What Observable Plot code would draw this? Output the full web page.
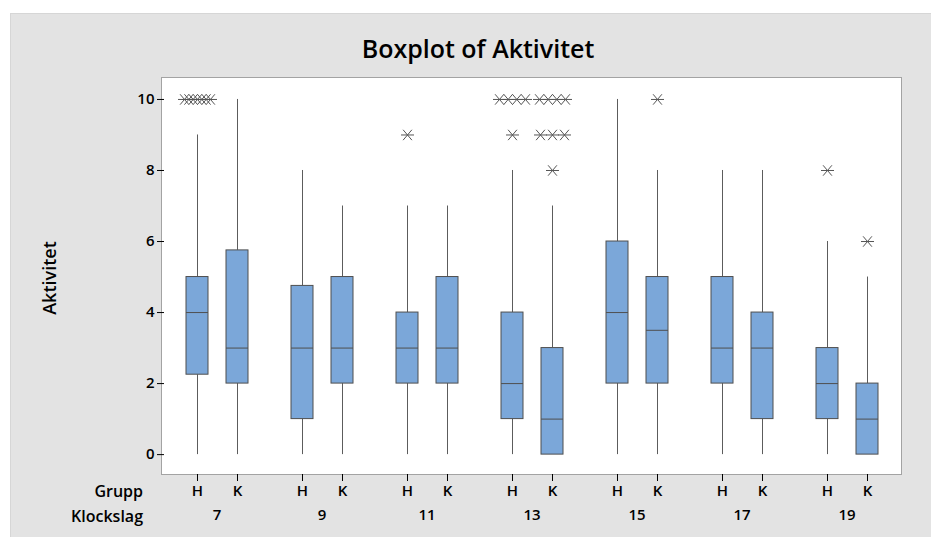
<!DOCTYPE html>
<html>
<head>
<meta charset="utf-8">
<script src="https://cdn.jsdelivr.net/npm/d3@7"></script>
<script src="https://cdn.jsdelivr.net/npm/@observablehq/plot@0.6"></script>
<style>
  html, body { margin: 0; padding: 0; background: #fff; }
  #wrap { position: relative; width: 931px; height: 537px; overflow: hidden; font-family: "Open Sans", sans-serif; }
  #panel { position: absolute; left: 10px; top: 13px; right: 0; bottom: 0; background: #e3e3e3; border-top: 1px solid #d6d6d6; border-left: 1px solid #d6d6d6; }
  #plotbg { position: absolute; left: 161px; top: 77px; width: 739px; height: 396px; background: #fff; border: 1.5px solid #a3a3a3; }
  #chart { position: absolute; left: 0; top: 0; }
  .lbl { position: absolute; color: #000; font-weight: 600; white-space: nowrap; }
  #title { left: 478px; top: 31px; transform: translateX(-50%); font-size: 25px; }
  #ylabel { left: 49px; top: 278px; transform: translate(-50%, -50%) rotate(-90deg); font-size: 18px; }
  .rowlbl { right: 788px; font-size: 16px; transform: translateY(-50%); }
  svg [aria-label="y-axis tick"], svg [aria-label="x-axis tick"] { stroke: #9a9a9a; }
</style>
</head>
<body>
<div id="wrap">
  <div id="panel"></div>
  <div id="plotbg"></div>
  <div id="chart"></div>
  <div class="lbl" id="title">Boxplot of Aktivitet</div>
  <div class="lbl" id="ylabel">Aktivitet</div>
  <div class="lbl rowlbl" style="top:491px">Grupp</div>
  <div class="lbl rowlbl" style="top:516px">Klockslag</div>
</div>
<script>
// ---- data ----
const hours = [7, 9, 11, 13, 15, 17, 19];
const groups = ["H", "K"];
const yTicks = [0, 2, 4, 6, 8, 10];

const boxHour     = [7, 7, 9, 9, 11, 11, 13, 13, 15, 15, 17, 17, 19, 19];
const boxGroup    = ["H", "K", "H", "K", "H", "K", "H", "K", "H", "K", "H", "K", "H", "K"];
const whiskerLow  = [0, 0, 0, 0, 0, 0, 0, 0, 0, 0, 0, 0, 0, 0];
const q1          = [2.25, 2, 1, 2, 2, 2, 1, 0, 2, 2, 2, 1, 1, 0];
const median      = [4, 3, 3, 3, 3, 3, 2, 1, 4, 3.5, 3, 3, 2, 1];
const q3          = [5, 5.75, 4.75, 5, 4, 5, 4, 3, 6, 5, 5, 4, 3, 2];
const whiskerHigh = [9, 10, 8, 7, 7, 7, 8, 7, 10, 8, 8, 8, 6, 5];

const outHour  = [7, 11, 13, 13, 13, 13, 13, 15, 19, 19];
const outGroup = ["H", "H", "H", "H", "K", "K", "K", "K", "H", "K"];
const outValue = [10, 9, 10, 9, 10, 9, 8, 10, 8, 6];
const outCount = [7, 1, 4, 1, 4, 3, 1, 1, 1, 1];

// ---- tables built from the arrays ----
const boxes = boxHour.map((h, i) => ({
  hour: h, grupp: boxGroup[i], lo: whiskerLow[i], q1: q1[i],
  med: median[i], q3: q3[i], hi: whiskerHigh[i]
}));

// duplicate outliers are drawn side by side (as Minitab does)
const outliers = [];
outHour.forEach((h, i) => {
  const n = outCount[i];
  const step = n > 1 ? Math.min(12, 26 / (n - 1)) : 0;
  for (let k = 0; k < n; k++) {
    outliers.push({hour: h, grupp: outGroup[i], value: outValue[i], shift: +((k - (n - 1) / 2) * step).toFixed(2)});
  }
});
const shifts = [...new Set(outliers.map(d => d.shift))];

const asterisk = {
  draw(context, size) {
    const r = Math.sqrt(size / Math.PI);
    context.moveTo(-r, 0); context.lineTo(r, 0);
    context.moveTo(-0.68 * r, -0.8 * r); context.lineTo(0.68 * r, 0.8 * r);
    context.moveTo(-0.68 * r, 0.8 * r); context.lineTo(0.68 * r, -0.8 * r);
  }
};

const lineColor = "#5c5c5c";

const chart = Plot.plot({
  width: 931,
  height: 537,
  marginLeft: 162,
  marginRight: 30,
  marginTop: 78,
  marginBottom: 63,
  style: {background: "transparent", fontFamily: '"Open Sans", sans-serif', fontSize: "15px", fontWeight: 600, color: "#000", overflow: "visible"},
  fx: {domain: hours, padding: 0, axis: "bottom", tickSize: 0, tickPadding: 35, label: null},
  x: {domain: groups, paddingInner: 0.457, paddingOuter: 0.531, axis: "bottom", tickSize: 7, tickPadding: 4, label: null},
  y: {domain: [-0.56, 10.59], ticks: yTicks, tickSize: 7, tickPadding: 3, label: null},
  marks: [
    Plot.ruleX(boxes, {fx: "hour", x: "grupp", y1: "lo", y2: "q1", stroke: lineColor, strokeWidth: 1}),
    Plot.ruleX(boxes, {fx: "hour", x: "grupp", y1: "q3", y2: "hi", stroke: lineColor, strokeWidth: 1}),
    Plot.barY(boxes, {fx: "hour", x: "grupp", y1: "q1", y2: "q3", fill: "#7ba7d9", stroke: "#4f4f4f", strokeWidth: 1}),
    Plot.tickY(boxes, {fx: "hour", x: "grupp", y: "med", stroke: "#4f4f4f", strokeWidth: 1}),
    ...shifts.map(s => Plot.dot(outliers.filter(d => d.shift === s), {
      fx: "hour", x: "grupp", y: "value", dx: s,
      symbol: asterisk, r: 6.5, fill: "none", stroke: "#555", strokeWidth: 1
    }))
  ]
});
document.getElementById("chart").appendChild(chart);
</script>
</body>
</html>
